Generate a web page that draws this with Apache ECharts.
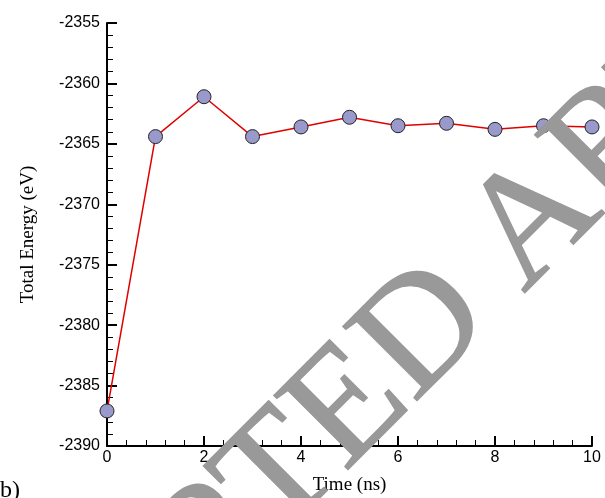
<!DOCTYPE html>
<html>
<head>
<meta charset="utf-8">
<script src="https://cdn.jsdelivr.net/npm/echarts@6/dist/echarts.min.js"></script>
<style>html,body{margin:0;padding:0;background:#fff}#c{width:605px;height:498px}</style>
</head>
<body>
<div id="c"></div>
<script>
var timeNs = [0, 1, 2, 3, 4, 5, 6, 7, 8, 9, 10];
var totalEnergy = [-2387.1, -2364.4, -2361.1, -2364.4, -2363.6, -2362.8, -2363.5, -2363.3, -2363.8, -2363.5, -2363.6];
var xTitle = 'Time (ns)';
var yTitle = 'Total Energy (eV)';
var panelLabel = 'b)';
var watermark = 'ACCEPTED ARTICLE';

var chart = echarts.init(document.getElementById('c'));
var pts = timeNs.map(function (t, i) { return [t, totalEnergy[i]]; });
var axisCommon = {
  axisLine: { show: true, onZero: false, lineStyle: { color: '#000', width: 2 } },
  axisTick: { show: true, inside: true, length: 10, lineStyle: { color: '#000', width: 2 } },
  minorTick: { show: true, splitNumber: 5, length: 6, lineStyle: { color: '#000', width: 1 } },
  splitLine: { show: false },
  minorSplitLine: { show: false },
  axisLabel: { color: '#000', fontFamily: 'Liberation Sans, Arial', fontSize: 16, formatter: function (v) { return String(v); } },
  nameTextStyle: { color: '#000', fontFamily: 'Liberation Serif, Times New Roman', fontSize: 19 }
};
chart.setOption({
  animation: false,
  grid: { left: 107, right: 13, top: 23, bottom: 52, containLabel: false, outerBoundsMode: 'none' },
  xAxis: Object.assign({}, axisCommon, {
    type: 'value', min: 0, max: 10, interval: 2,
    name: xTitle, nameLocation: 'middle', nameGap: 30,
    axisLabel: Object.assign({}, axisCommon.axisLabel, { margin: 4 })
  }),
  yAxis: Object.assign({}, axisCommon, {
    type: 'value', min: -2390, max: -2355, interval: 5,
    name: yTitle, nameLocation: 'middle', nameGap: 69,
    axisLabel: Object.assign({}, axisCommon.axisLabel, { margin: 7 })
  }),
  series: [{
    type: 'line',
    data: pts,
    symbol: 'circle',
    symbolSize: 14,
    lineStyle: { color: '#e00000', width: 1.5 },
    itemStyle: { color: '#9999cc', borderColor: '#222', borderWidth: 1 },
    z: 2
  }],
  graphic: [
    {
      type: 'text', left: 0, top: 479, z: 5,
      style: { text: panelLabel, fill: '#000', font: '24px "Liberation Serif", "Times New Roman", serif' }
    },
    {
      type: 'text', x: 423, y: 335, rotation: 45 * Math.PI / 180, z: 100,
      style: {
        text: watermark, fill: '#999999', stroke: '#999999', lineWidth: 1.5,
        font: '160px "Liberation Serif", "Times New Roman", serif',
        textAlign: 'center', textVerticalAlign: 'middle'
      }
    }
  ]
});
</script>
</body>
</html>
